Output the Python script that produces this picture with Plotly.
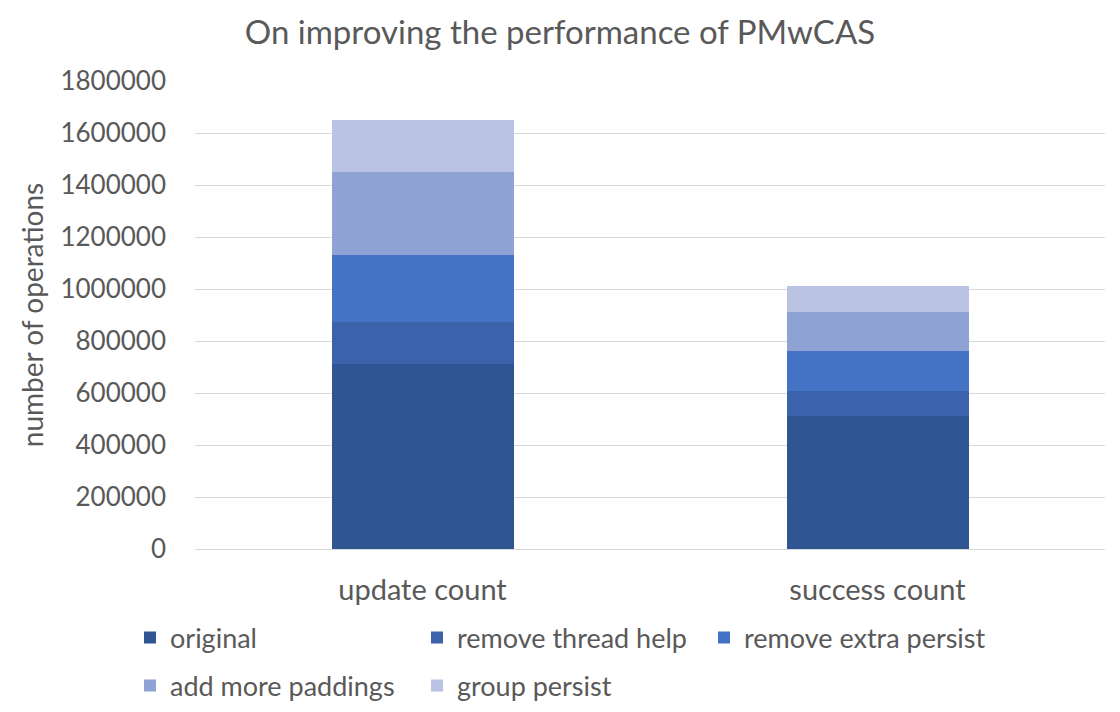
import plotly.graph_objects as go

categories = ["update count", "success count"]
series_names = ["original", "remove thread help", "remove extra persist",
                "add more paddings", "group persist"]
original = [712000, 512000]
remove_thread_help = [161000, 96000]
remove_extra_persist = [257000, 153000]
add_more_paddings = [320000, 150000]
group_persist = [200000, 100000]
series_values = [original, remove_thread_help, remove_extra_persist,
                 add_more_paddings, group_persist]
colors = ["#305593", "#3A63AC", "#4472C4", "#8FA2D4", "#BAC3E3"]
legend_ids = ["legend", "legend", "legend", "legend2", "legend2"]
y_ticks = list(range(0, 1800001, 200000))

FONT = "Lato"
GREY = "#595959"

fig = go.Figure()
for name, vals, col, lg in zip(series_names, series_values, colors, legend_ids):
    fig.add_trace(go.Bar(name=name, x=categories, y=vals, marker_color=col,
                         marker_line_width=0, legend=lg))

PLOT_TOP, PLOT_BOT = 81, 549
PH = PLOT_BOT - PLOT_TOP
leg_x = (130 - 195) / 910

common_legend = dict(orientation="h", x=leg_x, xanchor="left",
                     yanchor="middle", traceorder="normal",
                     entrywidth=242, entrywidthmode="pixels",
                     font=dict(size=27, color=GREY, family=FONT),
                     itemwidth=30, tracegroupgap=0,
                     bgcolor="rgba(0,0,0,0)")

fig.update_layout(
    width=1120, height=712,
    barmode="stack", bargap=0.6,
    paper_bgcolor="white", plot_bgcolor="white",
    margin=dict(l=195, r=15, t=PLOT_TOP, b=712 - PLOT_BOT, autoexpand=False),
    font=dict(family=FONT, color=GREY, size=26),
    title=dict(text="On improving the performance of PMwCAS",
               x=0.5, xanchor="center", y=1 - 32 / 712, yanchor="middle",
               font=dict(size=33, color=GREY, family=FONT)),
    legend=dict(common_legend, y=(PLOT_BOT - 638) / PH),
    legend2=dict(common_legend, y=(PLOT_BOT - 686) / PH),
)
fig.update_yaxes(range=[0, 1800000], tickvals=y_ticks, tickformat="d",
                 showgrid=True, gridcolor="#D9D9D9", gridwidth=1,
                 zeroline=False, showline=False, ticks="",
                 ticklabelstandoff=28,
                 tickfont=dict(size=26, color=GREY),
                 title=dict(text="number of operations", standoff=8,
                            font=dict(size=28, color=GREY)))
fig.update_xaxes(showline=True, linecolor="#D9D9D9", linewidth=1, ticks="",
                 ticklabelstandoff=15,
                 tickfont=dict(size=29, color=GREY))

fig.write_html("out.html")
